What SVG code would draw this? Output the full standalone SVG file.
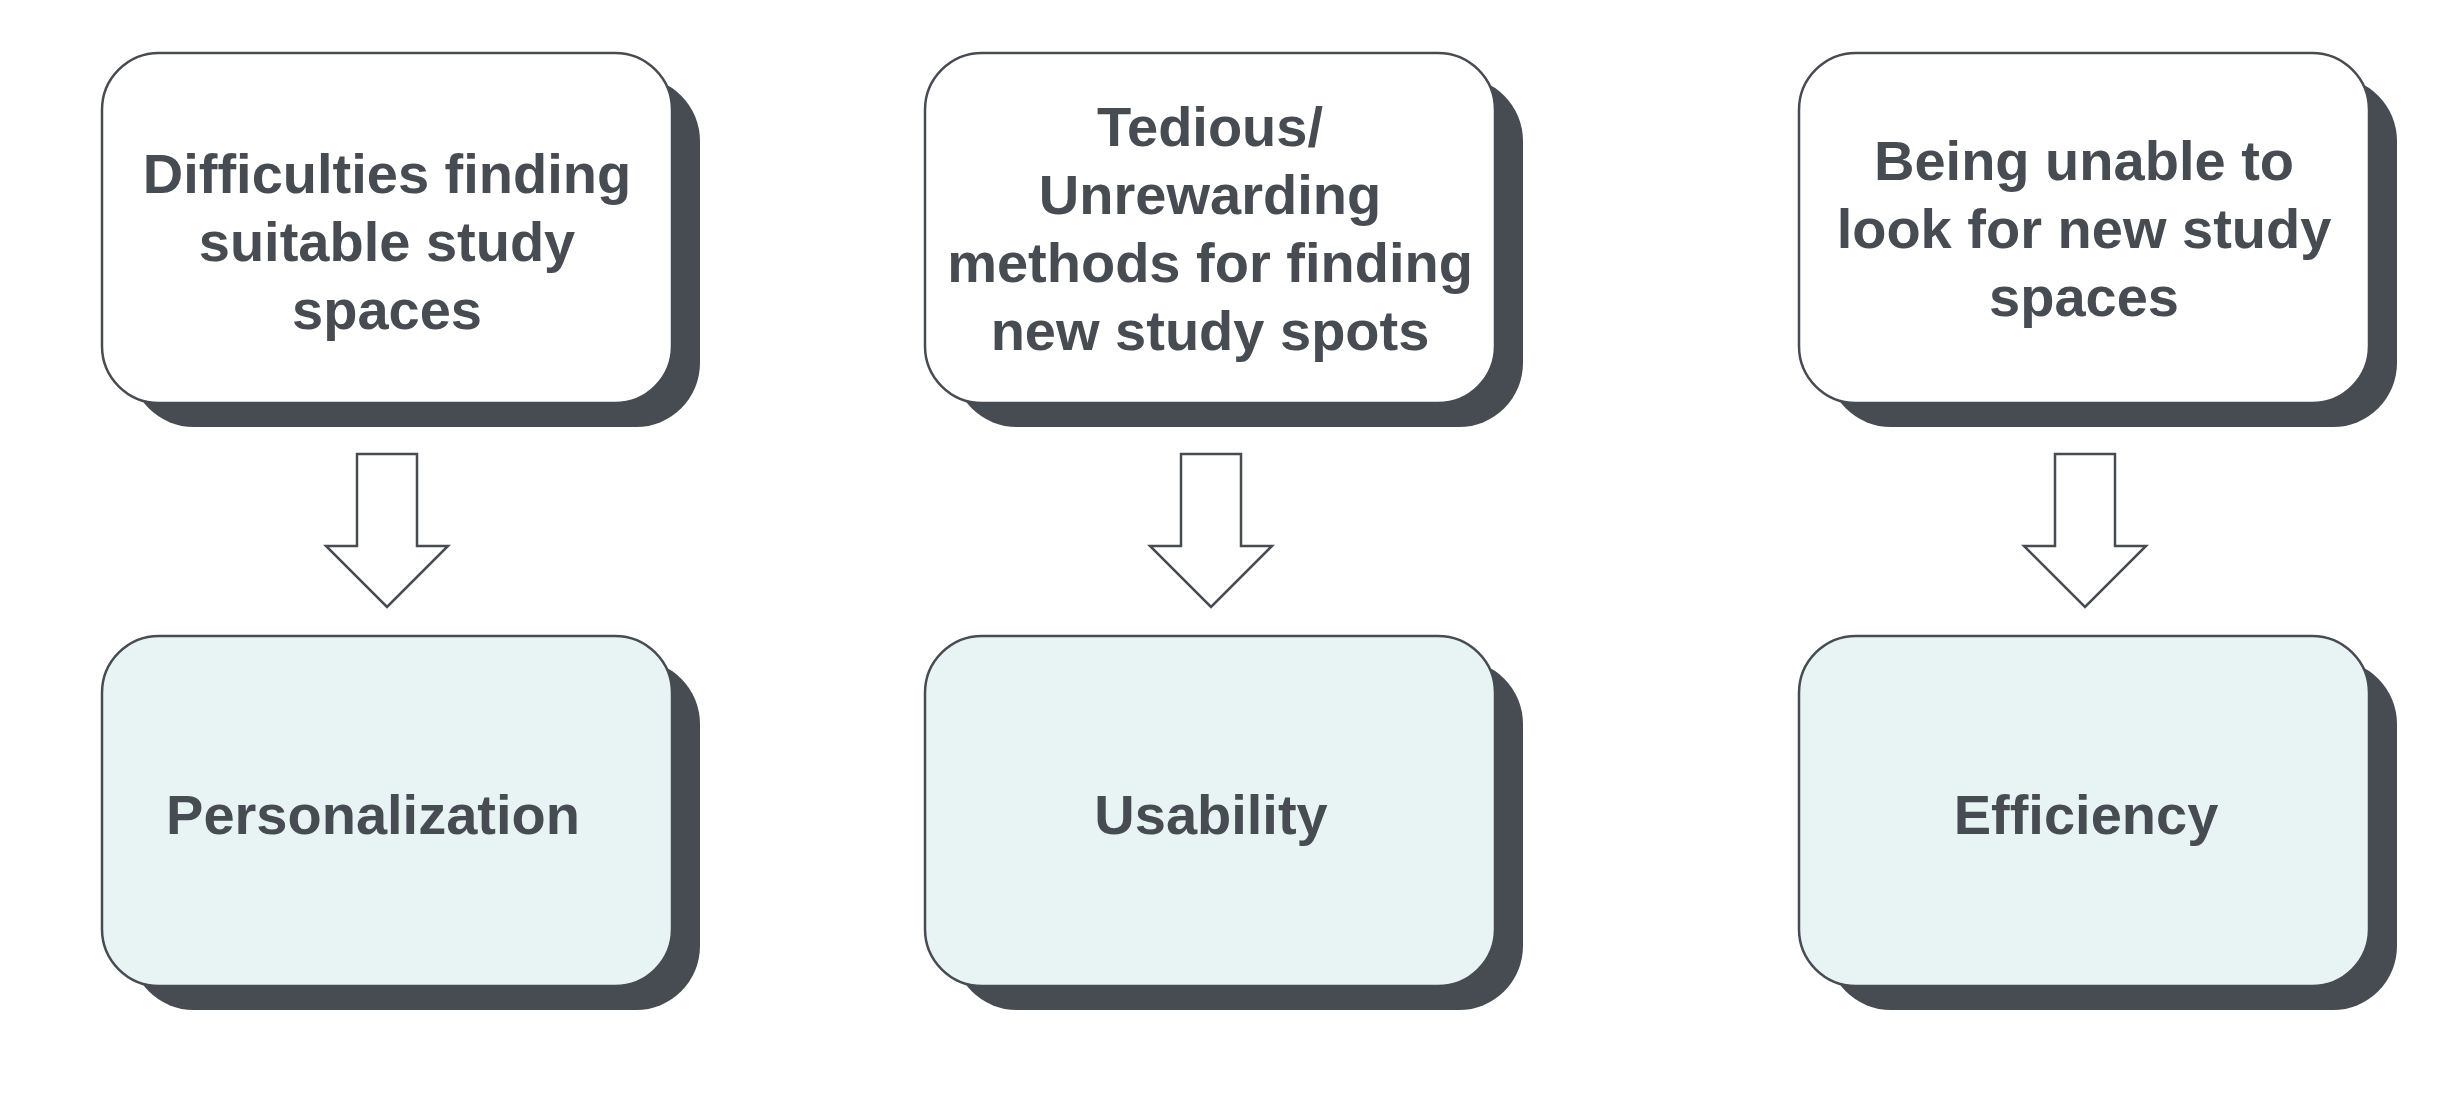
<svg xmlns="http://www.w3.org/2000/svg" width="2438" height="1100" viewBox="0 0 2438 1100">
  <style>
    .shadow { fill: #474b52; }
    .box { stroke: #474b52; stroke-width: 2.5; }
    .top { fill: #ffffff; }
    .bottom { fill: #e8f4f4; }
    .label { font-family: "Liberation Sans", Arial, sans-serif; font-weight: bold; font-size: 56px; fill: #474b52; text-anchor: middle; }
    .arrow { fill: #ffffff; stroke: #474b52; stroke-width: 2.5; stroke-linejoin: miter; }
  </style>
  <defs>
    <path id="downArrow" d="M -30 0 H 30 V 92 H 61 L 0 153 L -61 92 H -30 Z"/>
  </defs>
  <rect width="2438" height="1100" fill="#ffffff"/>

  <g id="node-difficulties">
    <rect class="shadow" x="130" y="77" width="570" height="350" rx="64"/>
    <rect class="box top" x="102" y="53" width="570" height="350" rx="57"/>
    <text class="label"><tspan x="387" y="193">Difficulties finding</tspan><tspan x="387" y="261">suitable study</tspan><tspan x="387" y="329">spaces</tspan></text>
  </g>
  <g id="node-tedious">
    <rect class="shadow" x="953" y="77" width="570" height="350" rx="64"/>
    <rect class="box top" x="925" y="53" width="570" height="350" rx="57"/>
    <text class="label"><tspan x="1210" y="146">Tedious/</tspan><tspan x="1210" y="214">Unrewarding</tspan><tspan x="1210" y="282">methods for finding</tspan><tspan x="1210" y="350">new study spots</tspan></text>
  </g>
  <g id="node-unable">
    <rect class="shadow" x="1827" y="77" width="570" height="350" rx="64"/>
    <rect class="box top" x="1799" y="53" width="570" height="350" rx="57"/>
    <text class="label"><tspan x="2084" y="180">Being unable to</tspan><tspan x="2084" y="248">look for new study</tspan><tspan x="2084" y="316">spaces</tspan></text>
  </g>

  <g id="node-personalization">
    <rect class="shadow" x="130" y="660" width="570" height="350" rx="64"/>
    <rect class="box bottom" x="102" y="636" width="570" height="350" rx="57"/>
    <text class="label" x="373" y="834">Personalization</text>
  </g>
  <g id="node-usability">
    <rect class="shadow" x="953" y="660" width="570" height="350" rx="64"/>
    <rect class="box bottom" x="925" y="636" width="570" height="350" rx="57"/>
    <text class="label" x="1211" y="834">Usability</text>
  </g>
  <g id="node-efficiency">
    <rect class="shadow" x="1827" y="660" width="570" height="350" rx="64"/>
    <rect class="box bottom" x="1799" y="636" width="570" height="350" rx="57"/>
    <text class="label" x="2086" y="834">Efficiency</text>
  </g>

  <g id="connectors">
    <use href="#downArrow" class="arrow" x="387" y="454"/>
    <use href="#downArrow" class="arrow" x="1211" y="454"/>
    <use href="#downArrow" class="arrow" x="2085" y="454"/>
  </g>
</svg>
